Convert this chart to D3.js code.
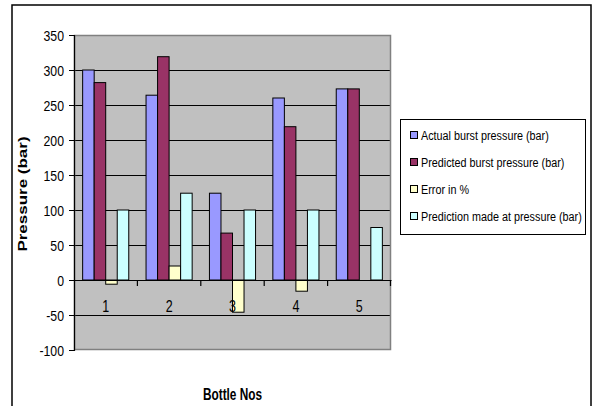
<!DOCTYPE html>
<html>
<head>
<meta charset="utf-8">
<script src="https://cdn.jsdelivr.net/npm/d3@7"></script>
<style>
  html, body { margin: 0; padding: 0; background: #fff; }
  svg { display: block; }
  text { font-family: "Liberation Sans", Arial, sans-serif; fill: #000; }
</style>
</head>
<body>
<svg id="chart" width="595" height="406"></svg>
<script>
const categories = ["1", "2", "3", "4", "5"];
const seriesNames = [
  "Actual burst pressure (bar)",
  "Predicted burst pressure (bar)",
  "Error in %",
  "Prediction made at pressure (bar)"
];
const actualBurst = [300, 264, 124, 260, 273];
const predictedBurst = [282, 319, 67, 219, 273];
const errorPct = [-6, 20, -46, -16, 0];
const predictionAt = [100, 124, 100, 100, 75];
const yTicks = [-100, -50, 0, 50, 100, 150, 200, 250, 300, 350];
const seriesColors = ["#9999FF", "#993366", "#FFFFCC", "#CCFFFF"];
const xTitle = "Bottle Nos";
const yTitle = "Pressure (bar)";

const seriesValues = [actualBurst, predictedBurst, errorPct, predictionAt];

const svg = d3.select("#chart");
const plot = { left: 74, right: 391, top: 35, bottom: 350 };
const SX = 0.82; // horizontal squeeze of the text in the source

// outer frame
svg.append("rect")
  .attr("x", 12).attr("y", 5)
  .attr("width", 579).attr("height", 420)
  .attr("fill", "#fff").attr("stroke", "#000").attr("stroke-width", 1.5);

const x = d3.scaleBand().domain(categories).range([plot.left, plot.right]).padding(0);
const xs = d3.scaleBand().domain(d3.range(seriesNames.length))
  .range([0, x.bandwidth()]).paddingInner(0).paddingOuter(0.75);
const y = d3.scaleLinear().domain([-100, 350]).range([plot.bottom, plot.top]);

// plot background
svg.append("rect")
  .attr("x", plot.left).attr("y", plot.top)
  .attr("width", plot.right - plot.left).attr("height", plot.bottom - plot.top)
  .attr("fill", "#C0C0C0");

// gridlines
svg.append("g").selectAll("line")
  .data(yTicks.filter(v => v > -100 && v < 350))
  .join("line")
  .attr("x1", plot.left).attr("x2", plot.right)
  .attr("y1", d => Math.round(y(d)) + 0.5).attr("y2", d => Math.round(y(d)) + 0.5)
  .attr("stroke", "#000").attr("stroke-width", 1);

// plot border (gray)
svg.append("rect")
  .attr("x", plot.left + 0.5).attr("y", Math.round(plot.top) + 0.5)
  .attr("width", plot.right - plot.left - 1).attr("height", plot.bottom - plot.top - 1)
  .attr("fill", "none").attr("stroke", "#808080").attr("stroke-width", 1.5);

// bars
const barData = [];
categories.forEach((c, i) => {
  seriesValues.forEach((vals, s) => {
    barData.push({ cat: c, s: s, v: vals[i] });
  });
});
svg.append("g").selectAll("rect")
  .data(barData.filter(d => d.v !== 0))
  .join("rect")
  .attr("x", d => x(d.cat) + xs(d.s))
  .attr("width", xs.bandwidth())
  .attr("y", d => y(Math.max(0, d.v)))
  .attr("height", d => Math.abs(y(d.v) - y(0)))
  .attr("fill", d => seriesColors[d.s])
  .attr("stroke", "#000").attr("stroke-width", 1);

// y axis
const yAxis = d3.axisLeft(y).tickValues(yTicks).tickSize(5).tickFormat(d => String(d));
const yg = svg.append("g").attr("transform", `translate(${plot.left},0)`).call(yAxis);
yg.select(".domain").attr("stroke", "#000").attr("stroke-width", 1.2);
yg.selectAll(".tick line").attr("stroke", "#000");
yg.selectAll(".tick text")
  .attr("font-size", 15)
  .attr("font-family", "'Liberation Sans', Arial, sans-serif")
  .attr("x", 0).attr("dy", "0.35em")
  .attr("text-anchor", "end")
  .attr("transform", `translate(-10,0) scale(${SX},1)`);

// x axis at zero
const xAxis = d3.axisBottom(x).tickSize(0).tickFormat(d => d);
const xg = svg.append("g").attr("transform", `translate(0,${y(0)})`).call(xAxis);
xg.select(".domain").attr("stroke", "#000").attr("stroke-width", 1.2);
xg.selectAll(".tick text")
  .attr("font-size", 16)
  .attr("font-family", "'Liberation Sans', Arial, sans-serif")
  .attr("y", 0).attr("dy", 0)
  .attr("transform", `translate(0,32) scale(0.78,1)`);
// category separator ticks
xg.append("g").selectAll("line")
  .data(categories.slice(1).concat(["end"]))
  .join("line")
  .attr("x1", d => d === "end" ? plot.right - 0.5 : x(d))
  .attr("x2", d => d === "end" ? plot.right - 0.5 : x(d))
  .attr("y1", 0).attr("y2", 6)
  .attr("stroke", "#000").attr("stroke-width", 1.2);

// axis titles
svg.append("text")
  .attr("transform", `translate(${(plot.left + plot.right) / 2},400) scale(0.74,1)`)
  .attr("text-anchor", "middle")
  .attr("font-size", 16).attr("font-weight", "bold")
  .text(xTitle);

svg.append("text")
  .attr("transform", `translate(27,194) rotate(-90) scale(1,0.8)`)
  .attr("text-anchor", "middle")
  .attr("font-size", 17).attr("font-weight", "bold")
  .text(yTitle);

// legend
const lg = svg.append("g");
lg.append("rect")
  .attr("x", 400.5).attr("y", 119.5).attr("width", 185).attr("height", 115)
  .attr("fill", "#fff").attr("stroke", "#000").attr("stroke-width", 1);
const rowY = d3.scalePoint().domain(d3.range(seriesNames.length)).range([135, 216]);
const items = lg.selectAll("g.item").data(seriesNames).join("g").attr("class", "item")
  .attr("transform", (d, i) => `translate(0,${rowY(i)})`);
items.append("rect")
  .attr("x", 410.5).attr("y", -3.5).attr("width", 7).attr("height", 7)
  .attr("fill", (d, i) => seriesColors[i]).attr("stroke", "#000").attr("stroke-width", 1);
items.append("text")
  .attr("transform", `translate(421,5) scale(0.8,1)`)
  .attr("font-size", 13.5)
  .text(d => d);
</script>
</body>
</html>
